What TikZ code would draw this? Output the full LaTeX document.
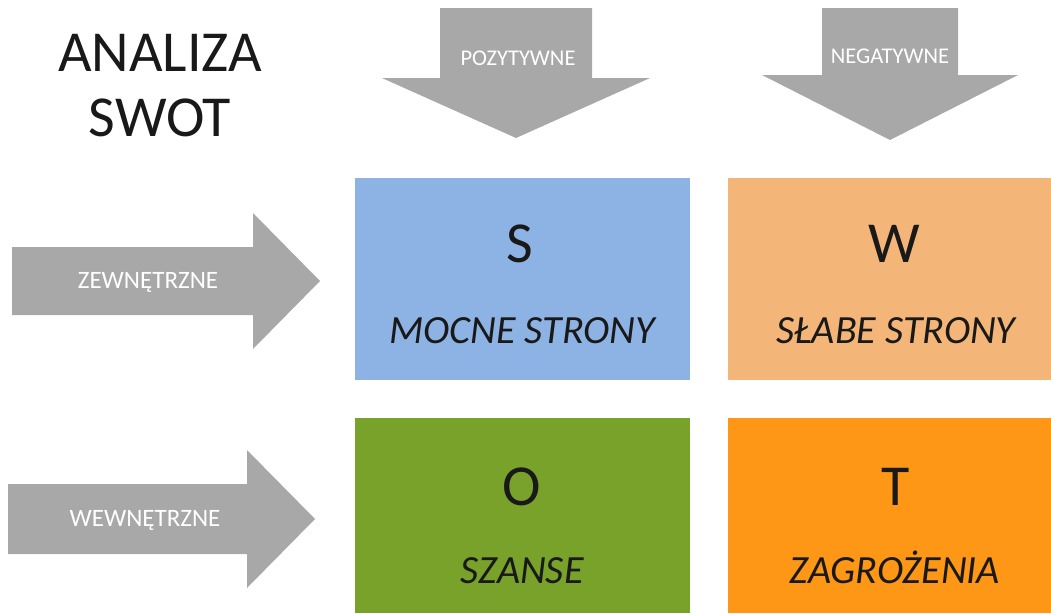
\documentclass[tikz,border=0pt]{standalone}
\usepackage{fontspec}
\setmainfont{Carlito}
\definecolor{arrowgray}{RGB}{168,168,168}
\definecolor{sblue}{RGB}{141,178,228}
\definecolor{wpeach}{RGB}{244,182,120}
\definecolor{ogreen}{RGB}{120,162,42}
\definecolor{torange}{RGB}{254,150,22}
\definecolor{ink}{RGB}{25,25,25}
\begin{document}
\begin{tikzpicture}[x=1pt,y=-1pt,
  arrowshape/.style={fill=arrowgray,draw=none},
  arrowtext/.style={text=white,inner sep=0pt},
  quad/.style={draw=none,inner sep=0pt,anchor=north west},
  letter/.style={text=ink,inner sep=0pt,anchor=base,font=\fontsize{58}{60}\selectfont},
  quadlabel/.style={text=ink,inner sep=0pt,anchor=base,font=\fontsize{40}{44}\selectfont\itshape}]
\useasboundingbox[fill=white] (0,0) rectangle (1051,613);
% title
\node[align=center,inner sep=0pt,font=\fontsize{58}{65}\selectfont,text=ink] (title) at (160,86) {ANALIZA\\SWOT};
% top arrows
\fill[arrowshape] (440,8) -- (592,8) -- (592,78) -- (650,78) -- (516,138) -- (382,78) -- (440,78) -- cycle;
\node[arrowtext,font=\fontsize{22.5}{24}\selectfont] (pos) at (518,58) {POZYTYWNE};
\fill[arrowshape] (822,8) -- (958,8) -- (958,75) -- (1018,75) -- (890,140) -- (762,75) -- (822,75) -- cycle;
\node[arrowtext,font=\fontsize{22.5}{24}\selectfont] (neg) at (890,56) {NEGATYWNE};
% left arrows
\fill[arrowshape] (12,247) -- (253,247) -- (253,213) -- (320,281) -- (253,349) -- (253,315) -- (12,315) -- cycle;
\node[arrowtext,font=\fontsize{25}{26}\selectfont] (zew) at (148,282) {ZEWNĘTRZNE};
\fill[arrowshape] (8,484) -- (247,484) -- (247,450) -- (315,519) -- (247,588) -- (247,554) -- (8,554) -- cycle;
\node[arrowtext,font=\fontsize{25}{26}\selectfont] (wew) at (145,520) {WEWNĘTRZNE};
% quadrants
\node[quad,fill=sblue,minimum width=335,minimum height=202] (S) at (355,178) {};
\node[quad,fill=wpeach,minimum width=323,minimum height=202] (W) at (728,178) {};
\node[quad,fill=ogreen,minimum width=335,minimum height=195] (O) at (355,418) {};
\node[quad,fill=torange,minimum width=323,minimum height=195] (T) at (728,418) {};
\node[letter] (Sl) at (520,262) {S};
\node[quadlabel] (St) at (522,343) {MOCNE STRONY};
\node[letter] (Wl) at (894,262) {W};
\node[quadlabel] (Wt) at (896,343) {SŁABE STRONY};
\node[letter] (Ol) at (522,505) {O};
\node[quadlabel] (Ot) at (522,583) {SZANSE};
\node[letter] (Tl) at (896,505) {T};
\node[quadlabel] (Tt) at (895,583) {ZAGROŻENIA};
\end{tikzpicture}
\end{document}
